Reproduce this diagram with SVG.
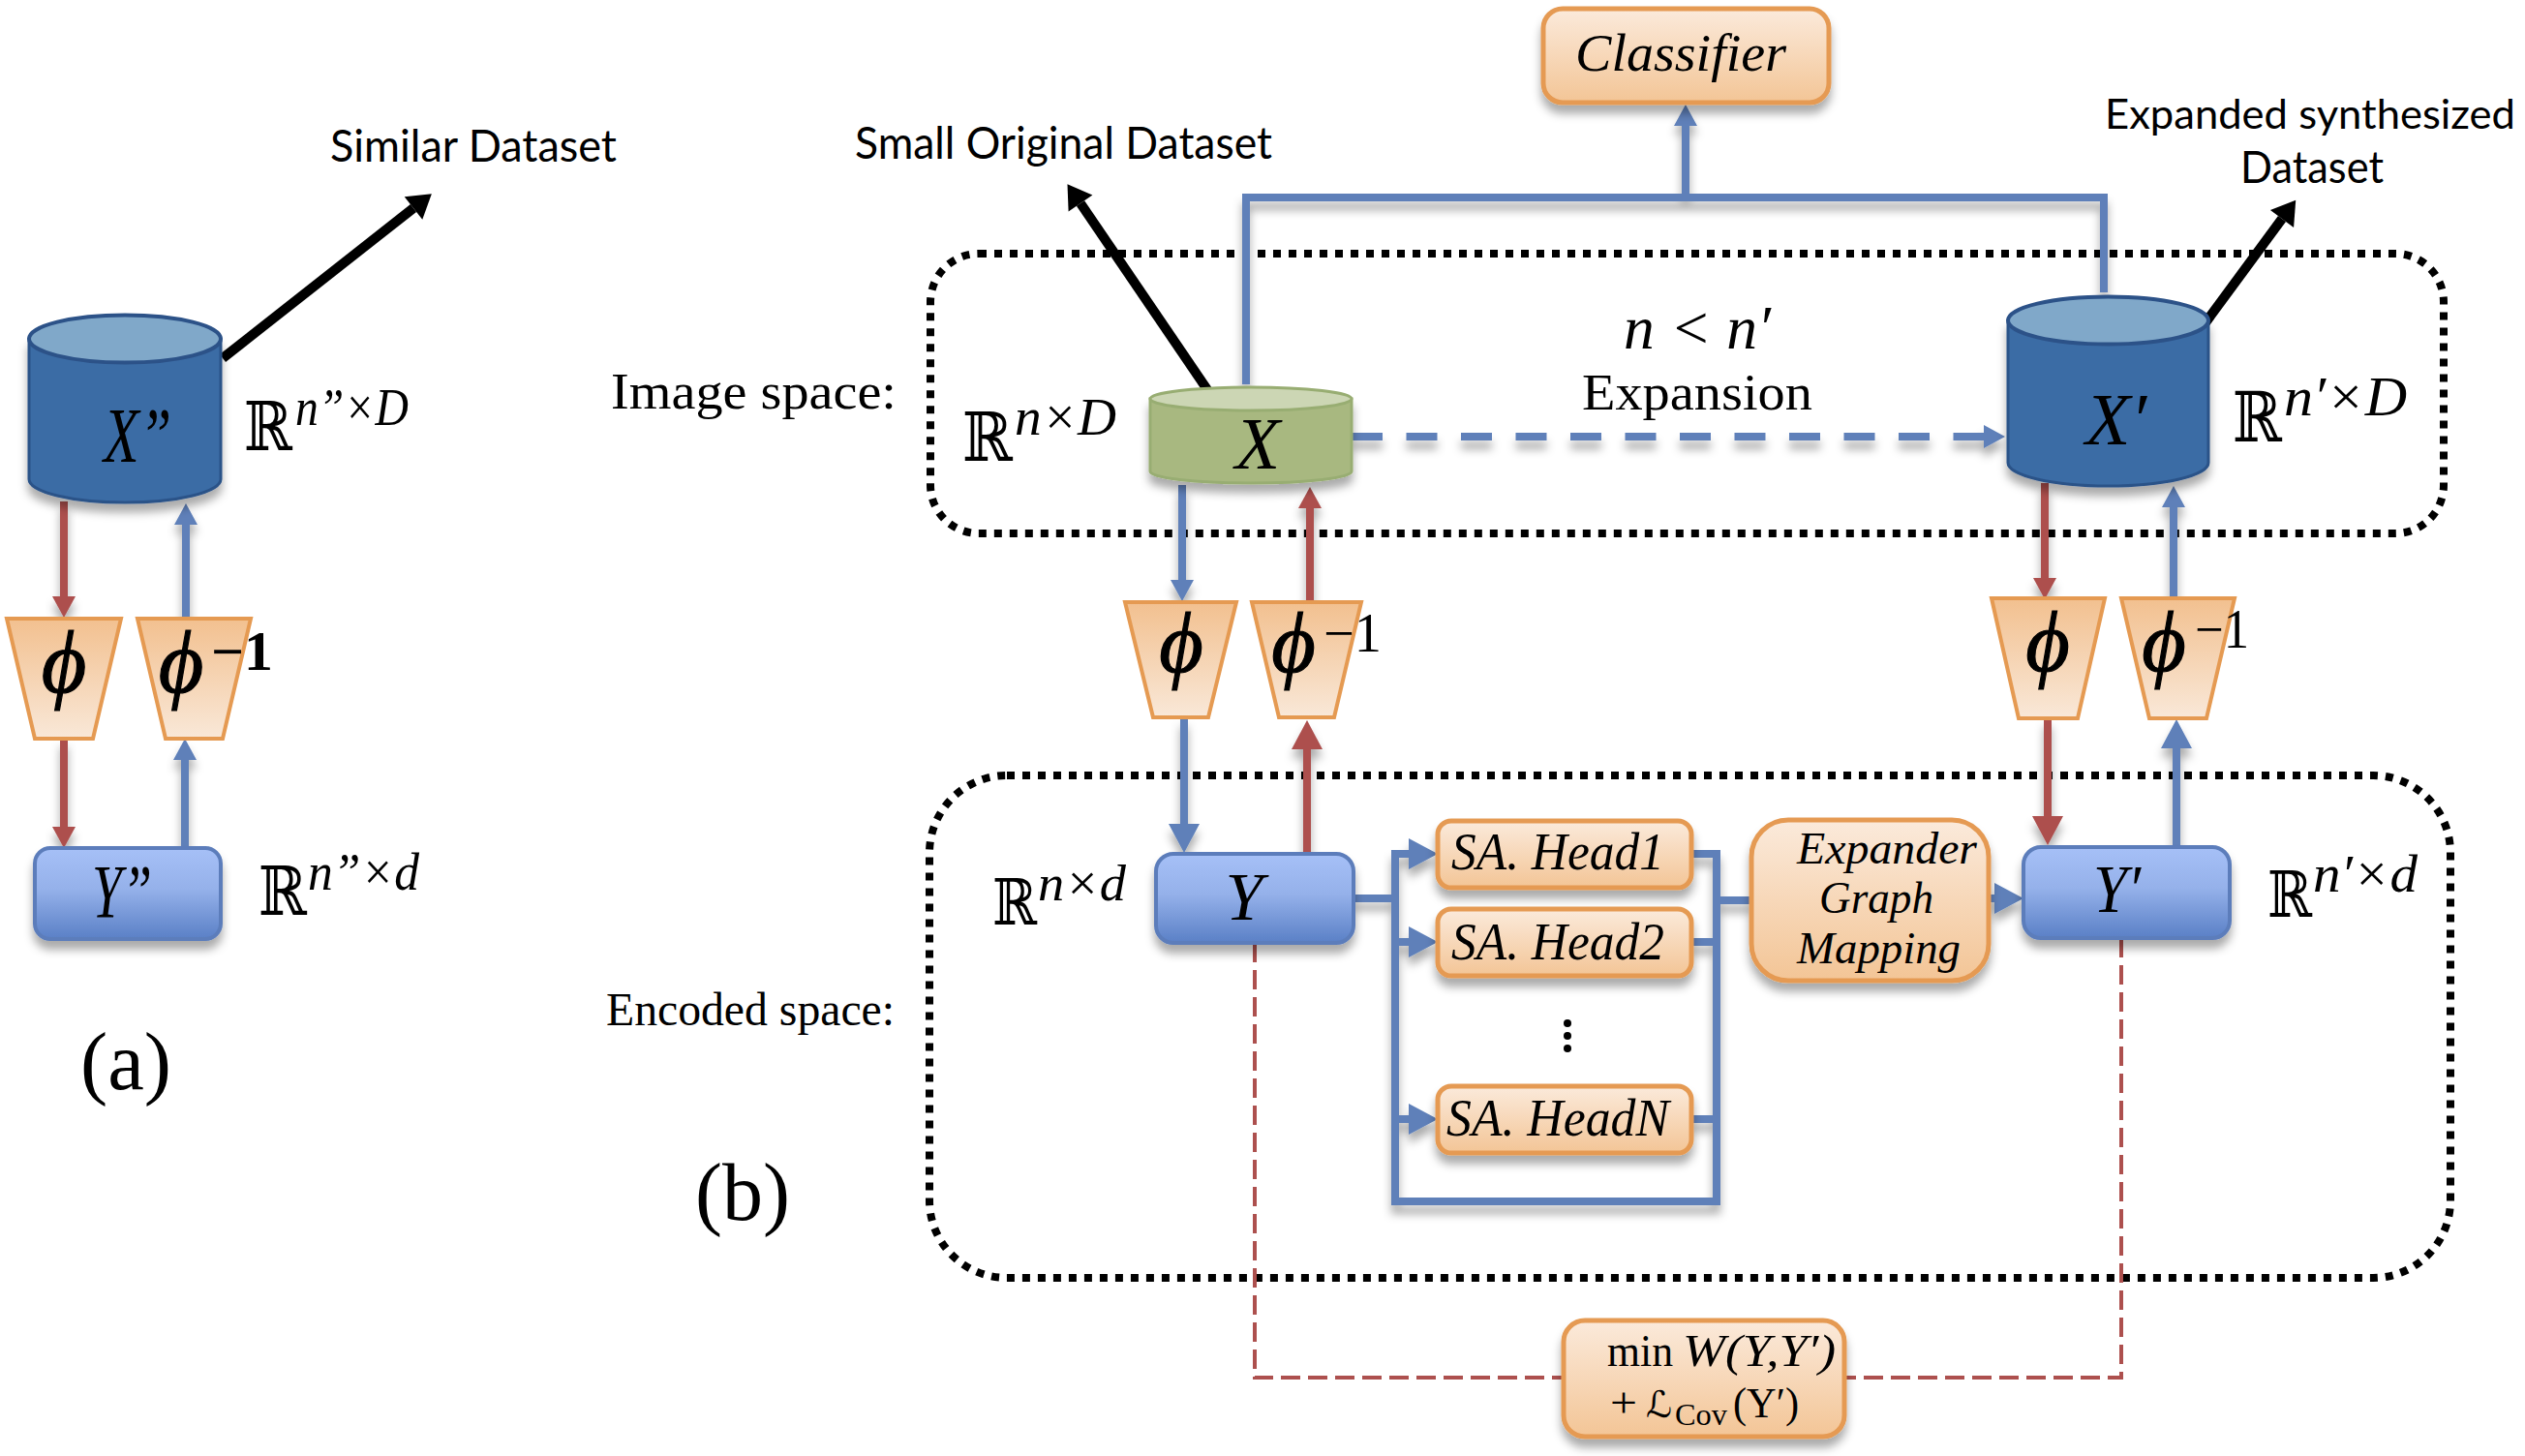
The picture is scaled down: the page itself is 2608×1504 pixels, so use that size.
<svg xmlns="http://www.w3.org/2000/svg" width="2608" height="1504" viewBox="0 0 2608 1504">
<style>
.sans{font-family:"Lato","Noto Sans",sans-serif;fill:#000}
.serif{font-family:"Liberation Serif",serif;fill:#000}
.math{font-family:"Liberation Serif","DejaVu Serif",serif;font-style:italic;fill:#000}
.phi{stroke:#000;stroke-width:1.2}
.bb{font-family:"DejaVu Serif","DejaVu Sans",serif;fill:#000}
.box{fill:url(#boxO);stroke:#e59a52;stroke-width:5}
.trap{fill:url(#trapO);stroke:#e59a52;stroke-width:4;stroke-linejoin:miter}
.enc{fill:url(#boxB);stroke:#5b7dbb;stroke-width:4}
.cylB{fill:#3a6ca5;stroke:#2c5288;stroke-width:3}
.cylBt{fill:#80a8c9;stroke:#2c5288;stroke-width:4}
.cylG{fill:#a8b880;stroke:#98ad72;stroke-width:3}
.cylGt{fill:#ccd6b4;stroke:#98ad72;stroke-width:3}
.b{fill:none;stroke:#5e80b9;stroke-width:8}
.r{fill:none;stroke:#ad504e;stroke-width:8}
.k{fill:none;stroke:#000;stroke-width:10}
.rd{fill:none;stroke:#ad504e;stroke-width:4;stroke-dasharray:20 8}
.dot{fill:none;stroke:#000;stroke-width:8;stroke-dasharray:8 8}
</style>
<defs>
<linearGradient id="boxO" x1="0" y1="0" x2="0" y2="1"><stop offset="0" stop-color="#fbeadb"/><stop offset="1" stop-color="#f3c596"/></linearGradient>
<linearGradient id="trapO" x1="0" y1="0" x2="0" y2="1"><stop offset="0" stop-color="#f2c08f"/><stop offset="1" stop-color="#f9e8d8"/></linearGradient>
<linearGradient id="boxB" x1="0" y1="0" x2="0" y2="1"><stop offset="0" stop-color="#a6c0f7"/><stop offset="0.45" stop-color="#95b1ea"/><stop offset="1" stop-color="#5a80c6"/></linearGradient>
<filter id="sh" filterUnits="userSpaceOnUse" x="0" y="0" width="2608" height="1504"><feDropShadow dx="0" dy="9" stdDeviation="5" flood-color="#000" flood-opacity="0.33"/></filter>
<marker id="bm" markerUnits="userSpaceOnUse" markerWidth="22" markerHeight="24" refX="0" refY="12" orient="auto" overflow="visible"><path d="M0 0L22 12L0 24Z" fill="#5e80b9"/></marker>
<marker id="bl" markerUnits="userSpaceOnUse" markerWidth="30" markerHeight="32" refX="0" refY="16" orient="auto" overflow="visible"><path d="M0 0L30 16L0 32Z" fill="#5e80b9"/></marker>
<marker id="rm" markerUnits="userSpaceOnUse" markerWidth="22" markerHeight="24" refX="0" refY="12" orient="auto" overflow="visible"><path d="M0 0L22 12L0 24Z" fill="#ad504e"/></marker>
<marker id="rl" markerUnits="userSpaceOnUse" markerWidth="30" markerHeight="32" refX="0" refY="16" orient="auto" overflow="visible"><path d="M0 0L30 16L0 32Z" fill="#ad504e"/></marker>
<marker id="km" markerUnits="userSpaceOnUse" markerWidth="24" markerHeight="30" refX="0" refY="15" orient="auto" overflow="visible"><path d="M0 0L24 15L0 30Z" fill="#000"/></marker>
</defs>
<rect width="2608" height="1504" fill="#fff"/>

<g id="regions">
<rect class="dot" x="961" y="262" width="1563" height="289" rx="50"/>
<rect class="dot" x="960" y="801" width="1571" height="519" rx="80"/>
</g>

<g id="connectors">
<g filter="url(#sh)">
<path class="r" d="M66 518V616" marker-end="url(#rm)"/>
<path class="b" d="M192 638V542" marker-end="url(#bm)"/>
<path class="r" d="M66 763V854" marker-end="url(#rm)"/>
<path class="b" d="M191 876V785" marker-end="url(#bm)"/>
<path class="b" d="M1221 501V599" marker-end="url(#bm)"/>
<path class="r" d="M1353 621V525" marker-end="url(#rm)"/>
<path class="b" d="M1223 742V851" marker-end="url(#bl)"/>
<path class="r" d="M1350 881V774" marker-end="url(#rl)"/>
<path class="r" d="M2112 499V597" marker-end="url(#rm)"/>
<path class="b" d="M2245 618V524" marker-end="url(#bm)"/>
<path class="r" d="M2115 742V843" marker-end="url(#rl)"/>
<path class="b" d="M2248 873V773" marker-end="url(#bl)"/>
<path class="b" d="M1287 397V204H2173V302"/>
<path class="b" d="M1741 204V130" marker-end="url(#bm)"/>
<path class="b" d="M1396 451H2049" style="stroke-dasharray:32 24.5" marker-end="url(#bm)"/>
<path class="b" d="M1398 928H1441"/>
<path class="b" d="M1455 882H1441V1241H1773V882H1747"/>
<path class="b" d="M1441 973H1455" marker-end="url(#bl)"/>
<path class="b" d="M1441 882H1455" marker-end="url(#bl)"/>
<path class="b" d="M1441 1156H1455" marker-end="url(#bl)"/>
<path class="b" d="M1747 973H1773M1747 1156H1773"/>
<path class="b" d="M1773 930H1809"/>
<path class="b" d="M2054 928H2060" marker-end="url(#bl)"/>
</g>
<path class="k" d="M230 370L427 215" marker-end="url(#km)"/>
<path class="k" d="M1248 404L1116 210" marker-end="url(#km)"/>
<path class="k" d="M2276 336L2357 226" marker-end="url(#km)"/>
<path class="rd" d="M1296 974V1423H1617"/>
<path class="rd" d="M2191 969V1423H1905"/>
</g>

<g id="similar-dataset-label"><text class="sans" x="341" y="167" font-size="46" textLength="296" lengthAdjust="spacingAndGlyphs">Similar Dataset</text></g>
<g id="original-dataset-label"><text class="sans" x="883" y="164" font-size="46" textLength="431" lengthAdjust="spacingAndGlyphs">Small Original Dataset</text></g>
<g id="expanded-dataset-label">
<text class="sans" x="2174" y="133" font-size="43" textLength="424" lengthAdjust="spacingAndGlyphs">Expanded synthesized</text>
<text class="sans" x="2314" y="189" font-size="46" textLength="148" lengthAdjust="spacingAndGlyphs">Dataset</text>
</g>
<g id="image-space-label"><text class="serif" x="631" y="422" font-size="52" textLength="295" lengthAdjust="spacingAndGlyphs">Image space:</text></g>
<g id="encoded-space-label"><text class="serif" x="626" y="1059" font-size="48" textLength="298" lengthAdjust="spacingAndGlyphs">Encoded space:</text></g>
<g id="panel-a-label"><text class="serif" x="83" y="1125" font-size="84" textLength="94" lengthAdjust="spacingAndGlyphs">(a)</text></g>
<g id="panel-b-label"><text class="serif" x="718" y="1260" font-size="84" textLength="98" lengthAdjust="spacingAndGlyphs">(b)</text></g>

<g id="expansion-label">
<text class="math" x="1677" y="360" font-size="64" textLength="152" lengthAdjust="spacingAndGlyphs">n &lt; n′</text>
<text class="serif" x="1634" y="423" font-size="52" textLength="238" lengthAdjust="spacingAndGlyphs">Expansion</text>
</g>

<g id="x-double" >
<path class="cylB" filter="url(#sh)" d="M30 350V495A99 24 0 0 0 228 495V350Z"/>
<ellipse class="cylBt" cx="129" cy="350" rx="99" ry="24.5"/>
<text class="math" x="107" y="477" font-size="80" textLength="70" lengthAdjust="spacingAndGlyphs">X”</text>
</g>
<g id="r-x-double">
<text class="bb" x="252" y="465" font-size="70" textLength="50" lengthAdjust="spacingAndGlyphs">ℝ</text>
<text class="math" x="305" y="439" font-size="54" textLength="117" lengthAdjust="spacingAndGlyphs">n”×D</text>
</g>
<g id="phi-a"><path class="trap" d="M7 639H125L96 763H36Z"/><text class="math phi" x="66" y="715" font-size="90" text-anchor="middle">ϕ</text></g>
<g id="phi-inv-a"><path class="trap" d="M142 639H259L230 763H171Z"/><text class="math phi" x="187" y="715" font-size="90" text-anchor="middle">ϕ</text><text class="serif" x="218" y="692" font-size="56" font-weight="bold" textLength="64" lengthAdjust="spacingAndGlyphs">−1</text></g>
<g id="y-double">
<rect class="enc" filter="url(#sh)" x="36" y="876" width="192" height="94" rx="16"/>
<text class="math" x="95" y="947" font-size="78" textLength="62" lengthAdjust="spacingAndGlyphs">Y”</text>
</g>
<g id="r-y-double">
<text class="bb" x="267" y="945" font-size="70" textLength="50" lengthAdjust="spacingAndGlyphs">ℝ</text>
<text class="math" x="318" y="919" font-size="54" textLength="115" lengthAdjust="spacingAndGlyphs">n”×d</text>
</g>

<g id="x">
<path class="cylG" filter="url(#sh)" d="M1188 412V487A104 12 0 0 0 1396 487V412Z"/>
<ellipse class="cylGt" cx="1292" cy="412" rx="104" ry="12"/>
<text class="math" x="1299" y="484" font-size="76" text-anchor="middle">X</text>
</g>
<g id="r-x">
<text class="bb" x="994" y="476" font-size="70" textLength="52" lengthAdjust="spacingAndGlyphs">ℝ</text>
<text class="math" x="1048" y="449" font-size="54" textLength="105" lengthAdjust="spacingAndGlyphs">n×D</text>
</g>
<g id="phi-b"><path class="trap" d="M1162 622H1277L1248 741H1191Z"/><text class="math phi" x="1220" y="694" font-size="88" text-anchor="middle">ϕ</text></g>
<g id="phi-inv-b"><path class="trap" d="M1293 622H1406L1378 741H1321Z"/><text class="math phi" x="1336" y="694" font-size="88" text-anchor="middle">ϕ</text><text class="serif" x="1367" y="673" font-size="56" textLength="60" lengthAdjust="spacingAndGlyphs">−1</text></g>
<g id="y">
<rect class="enc" filter="url(#sh)" x="1194" y="882" width="204" height="92" rx="18"/>
<text class="math" x="1285" y="950" font-size="70" text-anchor="middle">Y</text>
</g>
<g id="r-y">
<text class="bb" x="1025" y="955" font-size="66" textLength="46" lengthAdjust="spacingAndGlyphs">ℝ</text>
<text class="math" x="1072" y="930" font-size="52" textLength="91" lengthAdjust="spacingAndGlyphs">n×d</text>
</g>

<g id="x-prime">
<path class="cylB" filter="url(#sh)" d="M2074 331V478A103.500 24 0 0 0 2281 478V331Z"/>
<ellipse class="cylBt" cx="2177.500" cy="331" rx="103.500" ry="24.500"/>
<text class="math" x="2154" y="459" font-size="76" textLength="63" lengthAdjust="spacingAndGlyphs">X′</text>
</g>
<g id="r-x-prime">
<text class="bb" x="2306" y="456" font-size="72" textLength="51" lengthAdjust="spacingAndGlyphs">ℝ</text>
<text class="math" x="2359" y="429" font-size="58" textLength="127" lengthAdjust="spacingAndGlyphs">n′×D</text>
</g>
<g id="phi-c"><path class="trap" d="M2057 618H2174L2146 742H2085Z"/><text class="math phi" x="2115" y="693" font-size="88" text-anchor="middle">ϕ</text></g>
<g id="phi-inv-c"><path class="trap" d="M2191 618H2308L2279 742H2220Z"/><text class="math phi" x="2235" y="693" font-size="88" text-anchor="middle">ϕ</text><text class="serif" x="2267" y="669" font-size="56" textLength="56" lengthAdjust="spacingAndGlyphs">−1</text></g>
<g id="y-prime">
<rect class="enc" filter="url(#sh)" x="2090" y="875" width="213" height="94" rx="18"/>
<text class="math" x="2162" y="942" font-size="70" textLength="49" lengthAdjust="spacingAndGlyphs">Y′</text>
</g>
<g id="r-y-prime">
<text class="bb" x="2342" y="947" font-size="66" textLength="46" lengthAdjust="spacingAndGlyphs">ℝ</text>
<text class="math" x="2389" y="921" font-size="54" textLength="108" lengthAdjust="spacingAndGlyphs">n′×d</text>
</g>

<g id="classifier">
<rect class="box" filter="url(#sh)" x="1594" y="9" width="295" height="97" rx="20"/>
<text class="math" x="1627" y="73" font-size="54" textLength="218" lengthAdjust="spacingAndGlyphs">Classifier</text>
</g>
<g id="sa-head-1">
<rect class="box" filter="url(#sh)" x="1485" y="848" width="262" height="69" rx="14"/>
<text class="math" x="1499" y="898" font-size="54" textLength="220" lengthAdjust="spacingAndGlyphs">SA. Head1</text>
</g>
<g id="sa-head-2">
<rect class="box" filter="url(#sh)" x="1485" y="939" width="262" height="69" rx="14"/>
<text class="math" x="1499" y="991" font-size="54" textLength="220" lengthAdjust="spacingAndGlyphs">SA. Head2</text>
</g>
<g id="ellipsis">
<circle cx="1619" cy="1057" r="4"/><circle cx="1619" cy="1070" r="4"/><circle cx="1619" cy="1083" r="4"/>
</g>
<g id="sa-head-n">
<rect class="box" filter="url(#sh)" x="1485" y="1122" width="262" height="69" rx="14"/>
<text class="math" x="1494" y="1173" font-size="54" textLength="230" lengthAdjust="spacingAndGlyphs">SA. HeadN</text>
</g>
<g id="expander">
<rect class="box" filter="url(#sh)" x="1809" y="847" width="245" height="166" rx="38"/>
<text class="math" x="1856" y="892" font-size="46" textLength="186" lengthAdjust="spacingAndGlyphs">Expander</text>
<text class="math" x="1879" y="943" font-size="46" textLength="118" lengthAdjust="spacingAndGlyphs">Graph</text>
<text class="math" x="1856" y="995" font-size="46" textLength="169" lengthAdjust="spacingAndGlyphs">Mapping</text>
</g>
<g id="loss">
<rect class="box" filter="url(#sh)" x="1615" y="1364" width="290" height="120" rx="22"/>
<text class="serif" x="1660" y="1411" font-size="46" textLength="68" lengthAdjust="spacingAndGlyphs">min</text>
<text class="math" x="1738" y="1411" font-size="46" textLength="158" lengthAdjust="spacingAndGlyphs">W(Y,Y′)</text>
<text class="serif" x="1663" y="1464" font-size="44" textLength="28" lengthAdjust="spacingAndGlyphs">+</text>
<text class="bb" x="1700" y="1464" font-size="38" font-style="italic" textLength="27" lengthAdjust="spacingAndGlyphs">ℒ</text>
<text class="serif" x="1730" y="1472" font-size="32" textLength="54" lengthAdjust="spacingAndGlyphs">Cov</text>
<text class="serif" x="1790" y="1464" font-size="44" textLength="68" lengthAdjust="spacingAndGlyphs">(Y′)</text>
</g>
</svg>
